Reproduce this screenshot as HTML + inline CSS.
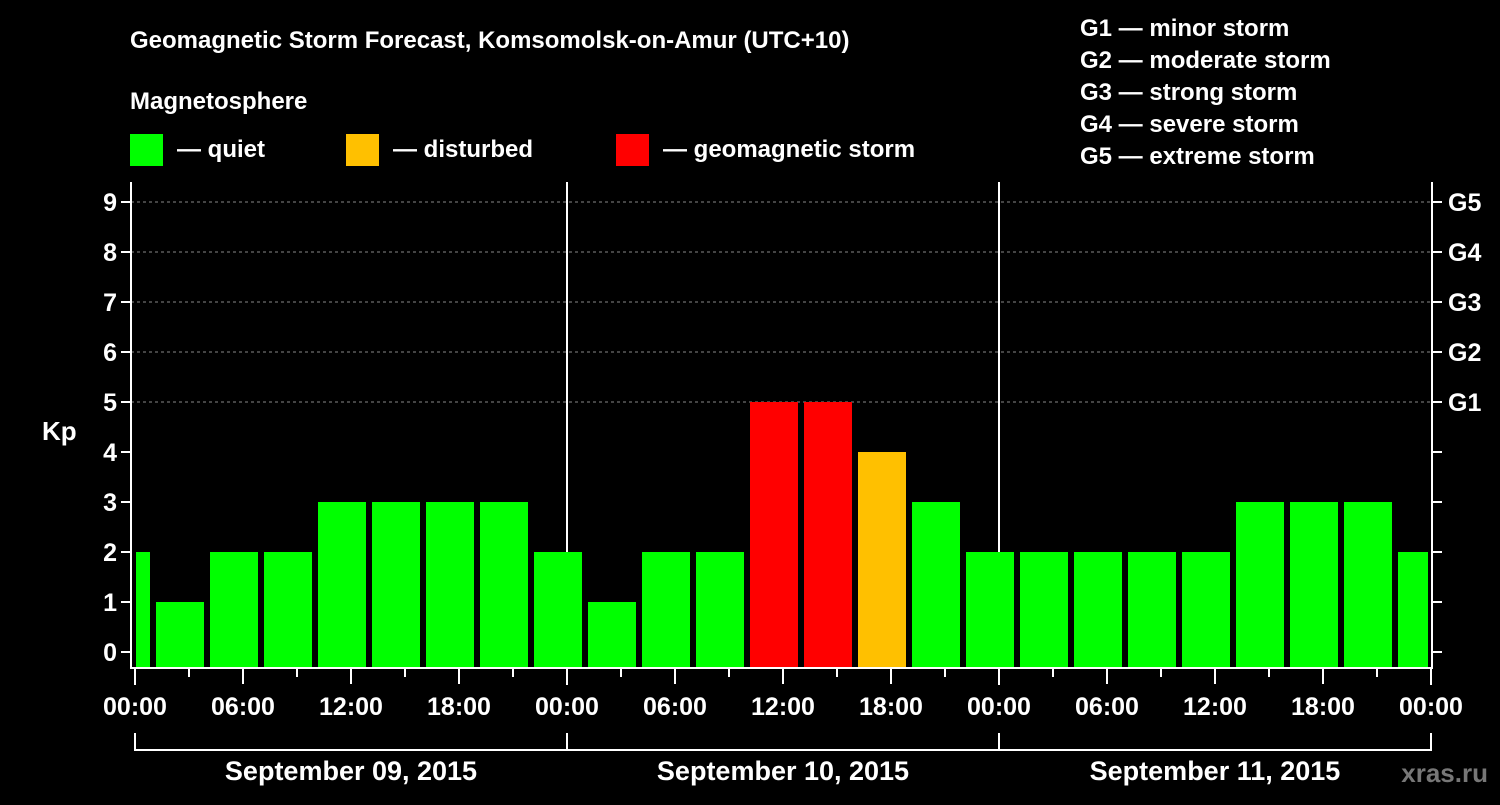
<!DOCTYPE html>
<html><head><meta charset="utf-8"><style>
body{margin:0;background:#000;width:1500px;height:800px;overflow:hidden;font-family:"Liberation Sans",Arial,sans-serif}
svg text{font-family:"Liberation Sans",Arial,sans-serif;font-weight:bold;fill:#fff}
</style></head><body>
<svg id="chart" width="1500" height="800">
<text x="130" y="48" font-size="24">Geomagnetic Storm Forecast, Komsomolsk-on-Amur (UTC+10)</text>
<text x="130" y="109" font-size="24">Magnetosphere</text>
<g><rect x="130" y="134" width="33" height="32" fill="#00ff00"/><text x="177" y="157" font-size="24">— quiet</text></g>
<g><rect x="346" y="134" width="33" height="32" fill="#ffc000"/><text x="393" y="157" font-size="24">— disturbed</text></g>
<g><rect x="616" y="134" width="33" height="32" fill="#ff0000"/><text x="663" y="157" font-size="24">— geomagnetic storm</text></g>
<g font-size="24">
<text x="1080" y="36">G1 — minor storm</text><text x="1080" y="68">G2 — moderate storm</text><text x="1080" y="100">G3 — strong storm</text><text x="1080" y="132">G4 — severe storm</text><text x="1080" y="164">G5 — extreme storm</text></g>
<text x="42" y="440" font-size="26">Kp</text>
<text x="1488" y="782" font-size="26" text-anchor="end" style="fill:#777">xras.ru</text>
<g id="grid"></g><g id="bars"></g><g id="axes"></g>
</svg>
<script>
const kpValues=[2,1,2,2,3,3,3,3,2,1,2,2,5,5,4,3,2,2,2,2,2,3,3,3,2];
const kpLevels=[0,1,2,3,4,5,6,7,8,9];
const gLabels=["G1","G2","G3","G4","G5"];
const dayLabels=["September 09, 2015","September 10, 2015","September 11, 2015"];
const timeLabels=["00:00","06:00","12:00","18:00"];
const NS="http://www.w3.org/2000/svg";
const L=131,R=1432,T=182,B=668,X0=135,PXH=18;
const y=v=>652-v*50;
const x=h=>X0+h*PXH;
function mk(tag,attrs,parent,txt){const e=document.createElementNS(NS,tag);for(const k in attrs)e.setAttribute(k,attrs[k]);if(txt!==undefined)e.textContent=txt;document.getElementById(parent)?document.getElementById(parent).appendChild(e):parent.appendChild(e);return e;}
const grid=document.getElementById('grid'),bars=document.getElementById('bars'),axes=document.getElementById('axes');
kpLevels.forEach(v=>{
 if(v>=5){const g=mk('line',{x1:L,x2:R,y1:y(v),y2:y(v),stroke:'#888','stroke-dasharray':'3,3'},grid);
 
 }
 const t=mk('line',{x1:L-10,x2:L,y1:y(v),y2:y(v),stroke:'#fff','stroke-width':2},axes);
 
 
 const t2=mk('line',{x1:R,x2:R+10,y1:y(v),y2:y(v),stroke:'#fff','stroke-width':2},axes);
 
 
 const lb=mk('text',{x:L-14,y:y(v)+9,'font-size':25,'text-anchor':'end'},axes,String(v));
 
 
});
gLabels.forEach((g,i)=>{const lb=mk('text',{x:R+16,y:y(5+i)+9,'font-size':25},axes,g);
 
 });
[1,2].forEach(d=>{const l=mk('line',{x1:x(d*24),x2:x(d*24),y1:T,y2:B,stroke:'#fff','stroke-width':2},grid);
 
 });
const clipL=136,clipR=1428;
kpValues.forEach((v,k)=>{
 const c=-0.5+3*k;let x1=x(c)-24,x2=x(c)+24;x1=Math.max(x1,clipL);x2=Math.min(x2,clipR);
 const col=v>=5?'#ff0000':v>=4?'#ffc000':'#00ff00';
 const r=mk('rect',{x:x1,y:y(v),width:x2-x1,height:B-y(v),fill:col},bars);
 
 
});
const fr=mk('path',{d:`M${L},${T} V${B} H${R} V${T}`,stroke:'#fff','stroke-width':2,fill:'none'},axes);


for(let h=0;h<=72;h+=3){
 const major=h%6===0;
 const t=mk('line',{x1:x(h),x2:x(h),y1:B,y2:B+(major?(h%24===0?17:16):9),stroke:'#fff','stroke-width':2},axes);
 
 
 if(major){const lb=mk('text',{x:x(h),y:715,'font-size':25,'text-anchor':'middle'},axes,h===72?"00:00":timeLabels[(h%24)/6]);
 
 }
}
const br=mk('path',{d:`M${x(0)},733 V750 H${x(72)} V733 M${x(24)},733 V750 M${x(48)},733 V750`,stroke:'#fff','stroke-width':2,fill:'none'},axes);


dayLabels.forEach((d,i)=>{const lb=mk('text',{x:x(i*24+12),y:780,'font-size':27,'text-anchor':'middle'},axes,d);
 
 });
</script>
</body></html>
